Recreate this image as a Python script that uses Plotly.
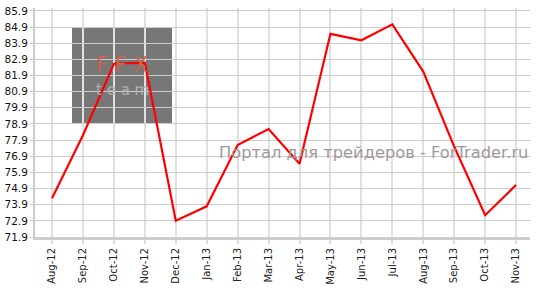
import plotly.graph_objects as go

months = ["Aug-12", "Sep-12", "Oct-12", "Nov-12", "Dec-12", "Jan-13", "Feb-13", "Mar-13",
          "Apr-13", "May-13", "Jun-13", "Jul-13", "Aug-13", "Sep-13", "Oct-13", "Nov-13"]
values = [74.3, 78.2, 82.63, 82.69, 72.91, 73.8, 77.6, 78.58,
          76.43, 84.48, 84.08, 85.07, 82.14, 77.5, 73.25, 75.12]
y_ticks = [71.9 + i for i in range(15)]

PW, PH = 495, 238  # plot area size in px (for watermark placement)

fig = go.Figure()
fig.add_trace(go.Scatter(x=months, y=values, mode="lines",
                         line=dict(color="#ff0000", width=2.2), hoverinfo="x+y"))

# logo watermark
fig.add_shape(type="rect", xref="paper", yref="paper",
              x0=(72 - 35) / PW, x1=(172 - 35) / PW,
              y0=(243 - 125) / PH, y1=(243 - 25) / PH,
              fillcolor="#777777", line_width=0, layer="below")
fig.add_annotation(xref="paper", yref="paper", x=(122 - 35) / PW, y=(243 - 64) / PH,
                   xanchor="center", yanchor="middle",
                   text="F&nbsp;F&nbsp;X", showarrow=False,
                   font=dict(family="DejaVu Sans ExtraLight, DejaVu Sans", size=21, color="#c8644f"))
fig.add_annotation(xref="paper", yref="paper", x=(122 - 35) / PW, y=(243 - 90) / PH,
                   xanchor="center", yanchor="middle",
                   text="t&nbsp;e&nbsp;a&nbsp;m", showarrow=False,
                   font=dict(family="DejaVu Sans ExtraLight, DejaVu Sans", size=15, color="#b0b0b0"))
fig.add_annotation(xref="paper", yref="paper", x=1.0, y=(243 - 155) / PH,
                   xanchor="right", yanchor="middle",
                   text="Портал для трейдеров - ForTrader.ru", showarrow=False,
                   font=dict(family="DejaVu Sans", size=16.3, color="#a39898"))

fig.update_layout(
    width=536, height=290,
    margin=dict(l=35, r=6, t=5, b=47),
    paper_bgcolor="white", plot_bgcolor="white",
    showlegend=False,
    xaxis=dict(type="category", range=[-0.55, 15.45],
               tickangle=-90, tickfont=dict(family="DejaVu Sans", size=10, color="#222"),
               showgrid=True, gridcolor="#e0e0e0", gridwidth=2,
               showline=True, linecolor="#cccccc", linewidth=3,
               ticks="outside", ticklen=4, tickcolor="#dddddd", tickwidth=2),
    yaxis=dict(range=[71.9, 86.08], tickvals=y_ticks, tickformat=".1f",
               tickfont=dict(family="DejaVu Sans", size=10.5, color="#111"),
               showgrid=True, gridcolor="#cccccc", gridwidth=1,
               showline=True, linecolor="#cccccc", linewidth=2,
               ticks="outside", ticklen=3, tickcolor="#cccccc", zeroline=False),
)

fig.write_html("out.html")
